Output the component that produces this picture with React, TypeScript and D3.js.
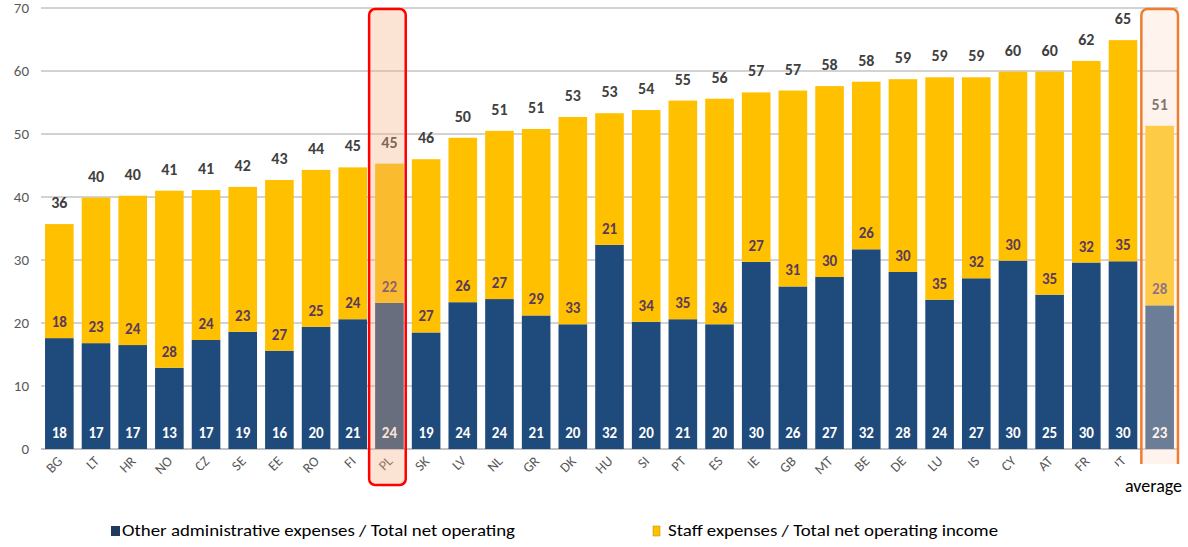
import React from 'react';
import * as d3 from 'd3';

// country codes, sorted by total cost/income ratio; last one is the average
const countries = ['BG', 'LT', 'HR', 'NO', 'CZ', 'SE', 'EE', 'RO', 'FI', 'PL', 'SK', 'LV', 'NL', 'GR', 'DK', 'HU', 'SI', 'PT', 'ES', 'IE', 'GB', 'MT', 'BE', 'DE', 'LU', 'IS', 'CY', 'AT', 'FR', 'IT', 'average'];

// other administrative expenses / total net operating income (bar heights)
const otherAdmin = [17.6, 16.8, 16.5, 12.9, 17.3, 18.6, 15.6, 19.4, 20.6, 23.2, 18.5, 23.3, 23.8, 21.2, 19.8, 32.4, 20.2, 20.6, 19.8, 29.7, 25.8, 27.3, 31.7, 28.1, 23.7, 27.1, 29.9, 24.5, 29.6, 29.8, 22.8];
// staff expenses / total net operating income (bar heights)
const staff = [18.1, 23.1, 23.7, 28.1, 23.8, 23.0, 27.1, 24.9, 24.1, 22.1, 27.5, 26.1, 26.7, 29.6, 32.9, 20.9, 33.6, 34.7, 35.8, 26.9, 31.1, 30.3, 26.6, 30.6, 35.3, 31.9, 30.0, 35.4, 32.0, 35.1, 28.5];

// labels as printed on the chart
const otherAdminLabels = [18, 17, 17, 13, 17, 19, 16, 20, 21, 24, 19, 24, 24, 21, 20, 32, 20, 21, 20, 30, 26, 27, 32, 28, 24, 27, 30, 25, 30, 30, 23];
const staffLabels = [18, 23, 24, 28, 24, 23, 27, 25, 24, 22, 27, 26, 27, 29, 33, 21, 34, 35, 36, 27, 31, 30, 26, 30, 35, 32, 30, 35, 32, 35, 28];
const totalLabels = [36, 40, 40, 41, 41, 42, 43, 44, 45, 45, 46, 50, 51, 51, 53, 53, 54, 55, 56, 57, 57, 58, 58, 59, 59, 59, 60, 60, 62, 65, 51];

const yTicks = [0, 10, 20, 30, 40, 50, 60, 70];
const legendLabels = ['Other administrative expenses / Total net operating', 'Staff expenses / Total net operating income'];

const BLUE = '#1f4a7c';
const YELLOW = '#ffc000';
const FONT = "Carlito, 'Open Sans', 'DejaVu Sans', sans-serif";

export default function App() {
  const width = 1188;
  const height = 547;
  const plot = { left: 41, right: 1178, top: 8, bottom: 449 };

  const x = d3.scaleBand<string>()
    .domain(countries)
    .range([plot.left, plot.right])
    .paddingInner(0.22)
    .paddingOuter(0.11);
  const y = d3.scaleLinear().domain([0, 70]).range([plot.bottom, plot.top]);
  const bw = x.bandwidth();

  const plX = x('PL') as number;
  const avX = x('average') as number;

  return (
    <svg width={width} height={height} style={{ position: 'absolute', left: 0, top: 0, background: '#fff' }} fontFamily={FONT}>
      {/* grid lines */}
      {yTicks.map(t => (
        <g key={t}>
          <line x1={plot.left} x2={plot.right} y1={y(t)} y2={y(t)} stroke={t === 0 ? '#868686' : '#a6a6a6'} strokeWidth={1} />
          <text x={29} y={y(t)} dy="0.35em" textAnchor="end" fontSize={15} fill="#595959">{t}</text>
        </g>
      ))}

      {/* stacked bars */}
      {countries.map((c, i) => {
        const bx = x(c) as number;
        const yBlueTop = y(otherAdmin[i]);
        const yTop = y(otherAdmin[i] + staff[i]);
        return (
          <g key={c}>
            <rect x={bx} y={yBlueTop} width={bw} height={y(0) - yBlueTop} fill={BLUE} />
            <rect x={bx} y={yTop} width={bw} height={yBlueTop - yTop} fill={YELLOW} />
            <text x={bx + bw / 2} y={y(0) - 11} textAnchor="middle" fontSize={15} fontWeight={600} fill="#fff">{otherAdminLabels[i]}</text>
            <text x={bx + bw / 2} y={yBlueTop - 11} textAnchor="middle" fontSize={15} fontWeight="bold" fill="#5a3a5e">{staffLabels[i]}</text>
            <text x={bx + bw / 2} y={yTop - 16} textAnchor="middle" fontSize={16} fontWeight="bold" fill="#404040">{totalLabels[i]}</text>
            {c !== 'average' && (
              <text transform={`translate(${bx + bw / 2 + 4},${plot.bottom + 13}) rotate(-45)`} textAnchor="end" fontSize={14} fill="#595959">{c}</text>
            )}
          </g>
        );
      })}

      {/* PL highlight */}
      <rect x={plX - 6} y={9} width={bw + 8} height={476} rx={6} fill="#f4b183" fillOpacity={0.35} stroke="#ff0000" strokeWidth={2.5} />

      {/* average highlight */}
      <rect x={avX - 4} y={9} width={bw + 8} height={490} rx={6} fill="#fbe0cc" fillOpacity={0.35} stroke="#ed7d31" strokeWidth={2.5} />
      <rect x={1119} y={464} width={69} height={40} fill="#fff" />
      <text x={1125} y={492} fontSize={18} fill="#000">average</text>

      {/* legend */}
      <rect x={111} y={526} width={9} height={10} fill="#1f3a5c" />
      <text x={122} y={536} fontSize={16} fill="#000" textLength={393} lengthAdjust="spacingAndGlyphs">{legendLabels[0]}</text>
      <rect x={653} y={526} width={7} height={10} fill={YELLOW} stroke="#b08a00" strokeWidth={0.5} />
      <text x={668} y={536} fontSize={16} fill="#000" textLength={330} lengthAdjust="spacingAndGlyphs">{legendLabels[1]}</text>
    </svg>
  );
}
